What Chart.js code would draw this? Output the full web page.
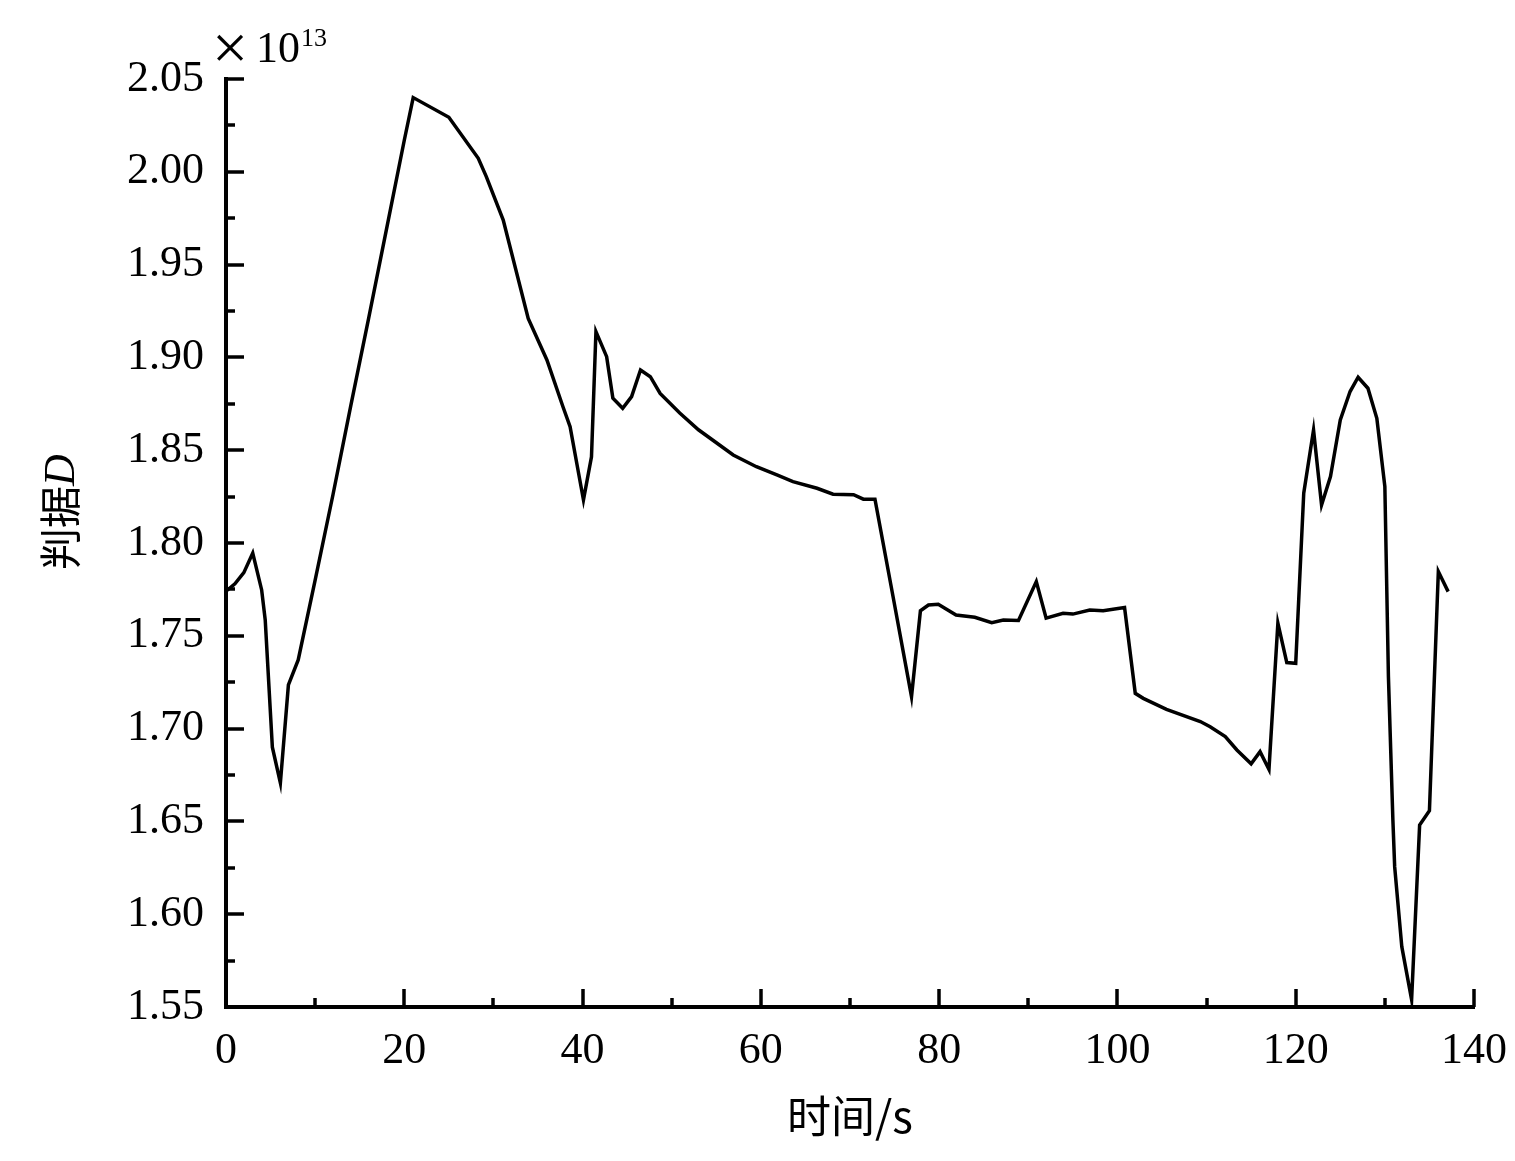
<!DOCTYPE html>
<html>
<head>
<meta charset="utf-8">
<script src="https://cdn.jsdelivr.net/npm/chart.js@4.4.1/dist/chart.umd.min.js"></script>
<style>
  body { margin: 0; background: #fff; }
  #wrap { width: 1515px; height: 1161px; }
</style>
</head>
<body>
<div id="wrap"><canvas id="dChart"></canvas></div>
<script>
// time in s, D in units of 1e13
const time = [0, 1, 2, 3, 4, 4.4, 5.2, 6.1, 7, 8.1,
  10, 12, 14, 16, 18, 20, 21,
  25, 28.3, 29.2, 31.1, 33.9, 36, 37.8, 38.6, 40.1,
  41, 41.5, 42.7, 43.4, 44.5, 45.5, 46.5, 47.6, 48.7, 50.9, 53,
  56.9, 59.5, 61.8, 63.6, 66.3, 68.1, 70.4, 71.5, 72.8,
  74.9, 76.9, 77.9, 78.8, 79.9, 81.9, 84, 85.9, 87.2, 88.9,
  90.9, 92, 93.9, 95, 96.9, 98.4, 100.8,
  102, 102.9, 105.5, 109.3, 110.4, 112.1, 113.4, 115, 116, 117,
  118, 119, 120, 120.9, 122, 122.9, 123.9, 125, 126.1, 127, 128.1, 129.1, 130,
  130.4, 130.9, 131.1, 131.9, 133, 133.9, 135, 136, 137.1];

const dValues = [1.774, 1.778, 1.784, 1.7946, 1.7747, 1.7585, 1.690, 1.6707, 1.7235, 1.737,
  1.780, 1.826, 1.874, 1.921, 1.969, 2.017, 2.040,
  2.0294, 2.0073, 1.9974, 1.974, 1.921, 1.8986, 1.8734, 1.8627, 1.8232,
  1.8465, 1.9139, 1.9004, 1.878, 1.8726, 1.8789, 1.8932, 1.8896, 1.8806, 1.870, 1.861,
  1.8474, 1.8411, 1.8367, 1.8331, 1.8295, 1.8263, 1.826, 1.8236, 1.8236,
  1.7693, 1.7172, 1.7635, 1.7666, 1.767, 1.7612, 1.760, 1.7571, 1.7585, 1.7582,
  1.7792, 1.7595, 1.7621, 1.7617, 1.7639, 1.7635, 1.7652,
  1.719, 1.7163, 1.7104, 1.7038, 1.701, 1.6957, 1.6885, 1.681, 1.6876, 1.678,
  1.7568, 1.7356, 1.7352, 1.8268, 1.8609, 1.8205, 1.8358, 1.8663, 1.8816, 1.8893, 1.8834, 1.8672, 1.8304,
  1.728, 1.6508, 1.6256, 1.5825, 1.554, 1.648, 1.6558, 1.7846, 1.7738];

const xTicks = [0, 20, 40, 60, 80, 100, 120, 140];
const yTicks = [1.55, 1.60, 1.65, 1.70, 1.75, 1.80, 1.85, 1.90, 1.95, 2.00, 2.05];
const xMinorTicks = [10, 30, 50, 70, 90, 110, 130];
const yMinorTicks = [1.575, 1.625, 1.675, 1.725, 1.775, 1.825, 1.875, 1.925, 1.975, 2.025];

const serif = '"Liberation Serif", "Times New Roman", serif';
const cjk = '"Noto Sans CJK SC", sans-serif';

// inward tick marks, y title and the x10^13 note
const decorations = {
  id: 'decorations',
  afterDraw(chart) {
    const ctx = chart.ctx;
    const x = chart.scales.x, y = chart.scales.y;
    const area = chart.chartArea;
    ctx.save();
    ctx.strokeStyle = '#000';
    ctx.lineWidth = 3.5;
    ctx.lineCap = 'butt';
    const tick = (x1, y1, x2, y2) => { ctx.beginPath(); ctx.moveTo(x1, y1); ctx.lineTo(x2, y2); ctx.stroke(); };
    xTicks.forEach(v => { const p = Math.round(x.getPixelForValue(v)); tick(p, area.bottom, p, area.bottom - 18); });
    xMinorTicks.forEach(v => { const p = Math.round(x.getPixelForValue(v)); tick(p, area.bottom, p, area.bottom - 9); });
    yTicks.forEach(v => { const p = Math.round(y.getPixelForValue(v)); tick(area.left, p, area.left + 18, p); });
    yMinorTicks.forEach(v => { const p = Math.round(y.getPixelForValue(v)); tick(area.left, p, area.left + 9, p); });

    // y title: 判据D (D italic)
    ctx.fillStyle = '#000';
    ctx.translate(60, 512);
    ctx.rotate(-Math.PI / 2);
    ctx.textBaseline = 'middle';
    ctx.font = '42px ' + cjk;
    const w1 = ctx.measureText('判据').width;
    ctx.font = 'italic 44px ' + serif;
    const w2 = ctx.measureText('D').width;
    let sx = -(w1 + w2) / 2;
    ctx.font = '42px ' + cjk;
    ctx.textAlign = 'left';
    ctx.fillText('判据', sx, 0);
    ctx.font = 'italic 44px ' + serif;
    ctx.fillText('D', sx + w1, 2);
    ctx.restore();

    // ×10^13
    ctx.save();
    ctx.fillStyle = '#000';
    ctx.textBaseline = 'alphabetic';
    ctx.textAlign = 'left';
    ctx.font = '64px ' + serif;
    ctx.fillText('×', 212, 69);
    ctx.font = '44px ' + serif;
    ctx.fillText('10', 256, 62);
    ctx.font = '26px ' + serif;
    ctx.fillText('13', 301, 46);
    ctx.restore();
  }
};

const dChart = document.getElementById('dChart').getContext('2d');

new Chart(dChart, {
  type: 'line',
  data: {
    datasets: [{
      data: time.map((t, i) => ({ x: t, y: dValues[i] })),
      borderColor: '#000',
      borderWidth: 3.5,
      pointRadius: 0,
      tension: 0,
      fill: false
    }]
  },
  options: {
    responsive: true,
    maintainAspectRatio: false,
    animation: false,
    layout: { padding: { left: 0, top: 79, right: 41, bottom: 0 } },
    plugins: { legend: { display: false }, tooltip: { enabled: false } },
    scales: {
      x: {
        type: 'linear',
        min: 0,
        max: 140,
        afterFit: s => { s.height = 154; s.paddingLeft = 0; s.paddingRight = 0; },
        afterBuildTicks: s => { s.ticks = xTicks.map(v => ({ value: v })); },
        grid: { display: false, drawTicks: false },
        border: { display: true, color: '#000', width: 4 },
        ticks: {
          autoSkip: false,
          maxRotation: 0,
          padding: 18,
          color: '#000',
          font: { family: serif, size: 44 }
        },
        title: {
          display: true,
          text: '时间/s',
          color: '#000',
          font: { family: cjk, size: 44 },
          padding: { top: 0, bottom: 18 }
        }
      },
      y: {
        type: 'linear',
        min: 1.55,
        max: 2.05,
        afterFit: s => { s.width = 226; s.paddingTop = 0; s.paddingBottom = 0; },
        afterBuildTicks: s => { s.ticks = yTicks.map(v => ({ value: v })); },
        grid: { display: false, drawTicks: false },
        border: { display: true, color: '#000', width: 4 },
        ticks: {
          padding: 22,
          color: '#000',
          font: { family: serif, size: 44 },
          callback: v => v.toFixed(2)
        }
      }
    }
  },
  plugins: [decorations]
});
</script>
</body>
</html>
